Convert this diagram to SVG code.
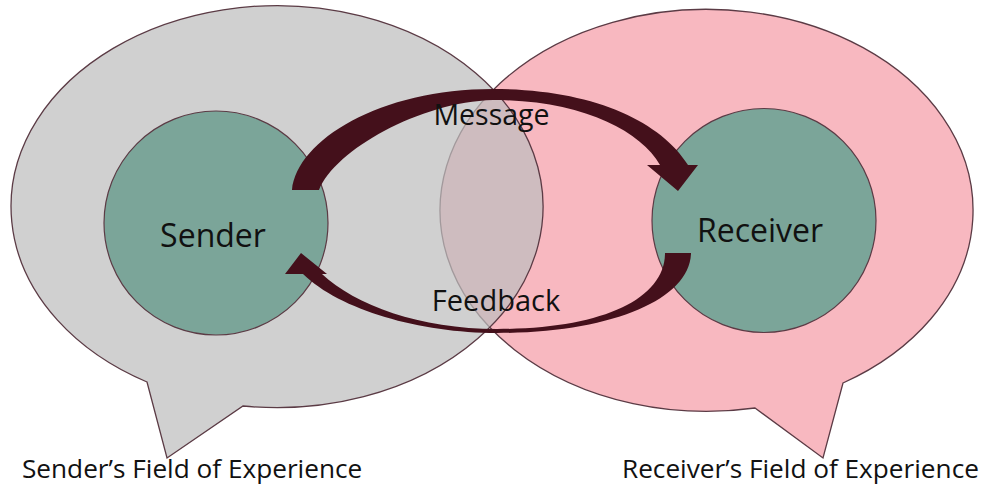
<svg xmlns="http://www.w3.org/2000/svg" width="985" height="488" viewBox="0 0 985 488">
  <style>
    .bubble { stroke: #5B3B45; stroke-width: 1.3; }
    .node { fill: #7BA599; stroke: #5B3B45; stroke-width: 1.2; }
    .arrow { fill: #44101B; stroke: none; }
    .lbl { font-family: "Open Sans", "Noto Sans", "Liberation Sans", sans-serif; fill: #111111; }
  </style>
  <rect width="985" height="488" fill="#FFFFFF"/>
  <g id="receiver-field">
    <path class="bubble" fill="#F8B8C0" d="M755,408 L823,458 L843,383 A266.5 201 0 1 0 755,408 Z"/>
  </g>
  <g id="sender-field">
    <path class="bubble" fill="#BEBEBE" fill-opacity="0.72" d="M147,382 L167,458 L243,406 A266 201 0 1 0 147,382 Z"/>
  </g>
  <g id="sender">
    <circle class="node" cx="216" cy="223" r="112"/>
    <text class="lbl" x="213" y="247" font-size="32" text-anchor="middle">Sender</text>
  </g>
  <g id="receiver">
    <circle class="node" cx="764" cy="220.5" r="112"/>
    <text class="lbl" x="760" y="242" font-size="32" text-anchor="middle">Receiver</text>
  </g>
  <g id="connectors">
    <path id="message-arrow" class="arrow" d="M292,190 C297,140 380,89 493,89 C590,89 660,120 688,165 L698,165 L678,191 L647,165 L660,165 C640,130 580,100 493,100 C420,102 335,150 319,190 Z"/>
    <path id="feedback-arrow" class="arrow" d="M665,253 L691,253 C690,300 610,333 497,333 C420,333 340,310 303,274 L285,274 L301,253 L327,274 L322,274 C355,305 420,329 497,329 C600,329 665,300 665,253 Z"/>
  </g>
  <g id="labels">
    <text class="lbl" x="491.5" y="125" font-size="28.5" text-anchor="middle">Message</text>
    <text class="lbl" x="496" y="311" font-size="29" text-anchor="middle">Feedback</text>
    <text class="lbl" x="22" y="478" font-size="26.2">Sender’s Field of Experience</text>
    <text class="lbl" x="622" y="478" font-size="26.2">Receiver’s Field of Experience</text>
  </g>
</svg>
